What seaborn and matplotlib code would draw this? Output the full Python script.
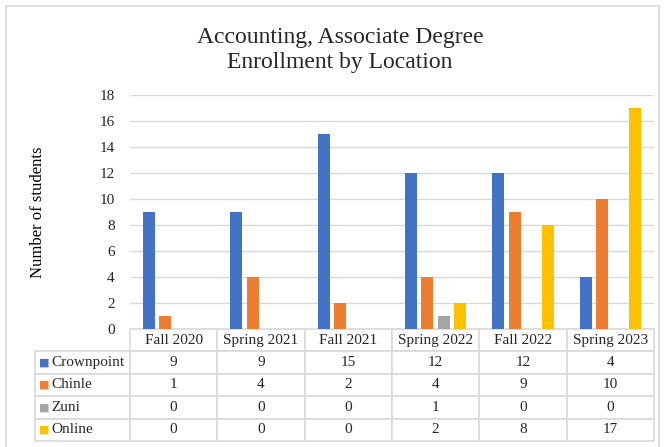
import numpy as np
import pandas as pd
import matplotlib
matplotlib.use("Agg")
import matplotlib.pyplot as plt
import seaborn as sns
from matplotlib.patches import Rectangle

terms = ["Fall 2020", "Spring 2021", "Fall 2021", "Spring 2022", "Fall 2022", "Spring 2023"]
locations = ["Crownpoint", "Chinle", "Zuni", "Online"]
crownpoint = [9, 9, 15, 12, 12, 4]
chinle = [1, 4, 2, 4, 9, 10]
zuni = [0, 0, 0, 1, 0, 0]
online = [0, 0, 0, 2, 8, 17]
colors = ["#4472C4", "#ED7D31", "#A5A5A5", "#FFC000"]

series = [crownpoint, chinle, zuni, online]
df = pd.DataFrame({
    "term": [t for s in series for t in terms],
    "location": [loc for loc, s in zip(locations, series) for _ in s],
    "students": [v for s in series for v in s],
})

sns.set_theme(style="white")
plt.rcParams["font.family"] = ["Liberation Serif", "DejaVu Serif"]

W, H = 667, 447
fig = plt.figure(figsize=(W / 100, H / 100), dpi=100)
# plot area in pixels: x 130..654, y 95..329
ax = fig.add_axes([130 / W, (H - 329) / H, 524 / W, 234 / H])

sns.barplot(data=df, x="term", y="students", hue="location", order=terms,
            hue_order=locations, palette=colors, saturation=1, width=0.755,
            gap=0.27, linewidth=0, legend=False, ax=ax)

ax.set_ylim(0, 18)
ax.set_yticks(range(0, 19, 2))
ax.yaxis.grid(True, color="#D9D9D9", linewidth=1)
ax.set_axisbelow(True)
for sp in ax.spines.values():
    sp.set_visible(False)
ax.set_xticks([])
ax.set_xlabel("")
ax.tick_params(axis="y", length=0, pad=11, labelsize=11, colors="#262626")
ax.set_ylabel("Number of students", fontsize=12, color="#000000")
ax.yaxis.set_label_coords((46 - 130) / 524, 0.5)

# data table below the plot
x0 = (35 - 130) / 524
tw = (654 - 35) / 524
th = (441 - 329) / 234
col_w = [95] + [87.4] * len(terms)
cell_text = [[""] + [str(v) for v in s] for s in series]
tbl = ax.table(cellText=cell_text, colLabels=[""] + terms, cellLoc="center",
               colWidths=[c / sum(col_w) for c in col_w],
               bbox=[x0, -th, tw, th])
tbl.auto_set_font_size(False)
for (r, c), cell in tbl.get_celld().items():
    cell.set_edgecolor("#D9D9D9")
    cell.set_linewidth(1.2)
    cell.get_text().set_fontsize(11)
    cell.get_text().set_fontfamily(["Liberation Serif", "DejaVu Serif"])
    if r == 0 and c == 0:
        cell.visible_edges = ""

rh = th / 5
for i, (loc, col) in enumerate(zip(locations, colors)):
    yc = -(i + 1.5) * rh
    ax.text((44 - 130) / 524, yc, "■", color=col, fontsize=8, ha="center",
            va="center", family="DejaVu Sans", transform=ax.transAxes)
    ax.text((51 - 130) / 524, yc, loc, fontsize=11, ha="left", va="center",
            transform=ax.transAxes)

fig.text(340 / W, 1 - 50 / H, "Accounting, Associate Degree\nEnrollment by Location",
         ha="center", va="center", fontsize=17, linespacing=1.3)

# outer chart border
fig.patches.append(Rectangle((6 / W, -0.01), 653 / W, 1 - 6 / H + 0.01,
                             transform=fig.transFigure, fill=False,
                             edgecolor="#D9D9D9", linewidth=1.2))

fig.savefig("out.png", dpi=100)
